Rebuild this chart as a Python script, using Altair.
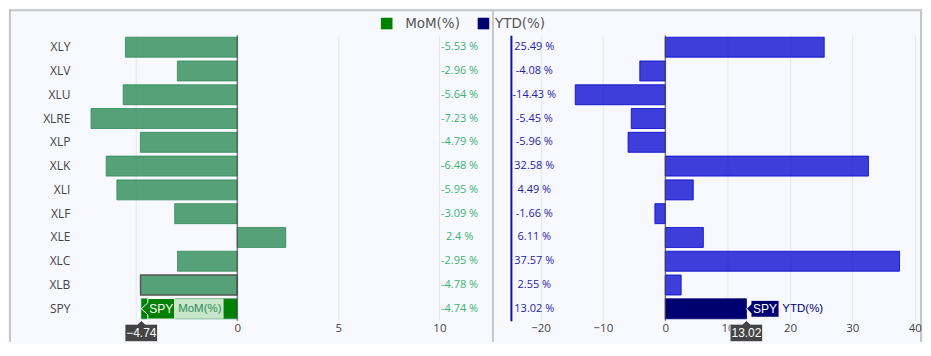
import altair as alt
import pandas as pd

# ---------------- data ----------------
tickers = ["XLY", "XLV", "XLU", "XLRE", "XLP", "XLK", "XLI", "XLF", "XLE", "XLC", "XLB", "SPY"]
mom_values = [-5.53, -2.96, -5.64, -7.23, -4.79, -6.48, -5.95, -3.09, 2.4, -2.95, -4.78, -4.74]
ytd_values = [25.49, -4.08, -14.43, -5.45, -5.96, 32.58, 4.49, -1.66, 6.11, 37.57, 2.55, 13.02]
series_names = ["MoM(%)", "YTD(%)"]
mom_ticks = [-5, 0, 5, 10]
ytd_ticks = [-20, -10, 0, 10, 20, 30, 40]
highlighted = "SPY"
outlined = "XLB"

# ---------------- styles ----------------
BG = "#f8f9fe"
FRAME = "#c6c6c6"
GRID = "#e5e6ee"
AXIS_TXT = "#444444"
GREEN_BAR = "#2e8b57"
GREEN_HI = "#008000"
GREEN_TXT = "#3cb371"
GREEN_NAME_BG = "#c8e6c9"
BLUE_BAR = "#0000cd"
NAVY = "#000070"
BLUE_TXT = "#2424a8"
BLUE_AXIS = "#1212b0"
SANS = "Open Sans"
HOVER_FONT = "Liberation Sans"
HOVER_SIZE = 11.5
LEGEND_FONT = "DejaVu Sans"

W_L, W_R, H = 415, 410, 286
MOM_DOMAIN = [-7.98, 12.5]
YTD_DOMAIN = [-24.75, 40.85]
MOM_LABEL_X = 11
YTD_LABEL_X = -21

HOVER_L = "M0,0 L0.65,-0.6 L0.65,-1.03 L3.34,-1.03 L3.34,1.03 L0.65,1.03 L0.65,0.6 Z"
HOVER_R = "M0,0 L0.45,-0.45 L0.45,-0.85 L3.27,-0.85 L3.27,0.85 L0.45,0.85 L0.45,0.45 Z"
AXIS_TIP = "M0,0 L0.4,0.35 L1.62,0.35 L1.62,2.1 L-1.64,2.1 L-1.64,0.35 L-0.4,0.35 Z"

df = pd.DataFrame({"ticker": tickers, "mom": mom_values, "ytd": ytd_values})
df["mom_label"] = [f"{v:g} %" for v in mom_values]
df["ytd_label"] = [f"{v:g} %" for v in ytd_values]
df["mom_tip"] = [f"{v:.2f}".replace("-", "\u2212") for v in mom_values]
df["ytd_tip"] = [f"{v:.2f}".replace("-", "\u2212") for v in ytd_values]

zero_df = pd.DataFrame({"z": [0]})
legend_df = pd.DataFrame({"name": series_names})

y_scale = alt.Scale(paddingInner=0.16, paddingOuter=0.08)
Y_LEFT = alt.Y("ticker:N", sort=tickers, scale=y_scale,
               axis=alt.Axis(title=None, ticks=False, domain=False, grid=False,
                             labelPadding=6, labelFont=SANS, labelFontSize=12,
                             labelColor=AXIS_TXT))
Y_RIGHT = alt.Y("ticker:N", sort=tickers, scale=y_scale,
                axis=alt.Axis(title=None, ticks=False, labels=False, grid=False,
                              domain=True, domainColor=BLUE_AXIS, domainWidth=2))


def x_axis(ticks, hidden_label=None):
    kw = {}
    if hidden_label is not None:
        kw["labelExpr"] = f"datum.value == {hidden_label} ? '' : datum.label"
    return alt.Axis(values=ticks, title=None, ticks=False, domain=False, grid=True,
                    gridColor=GRID, gridWidth=1, labelPadding=2, labelFont=SANS,
                    labelFontSize=11.5, labelColor=AXIS_TXT, **kw)


# the -5 label sits fully under the SPY axis tooltip in the reference
X_MOM = alt.X("mom:Q", scale=alt.Scale(domain=MOM_DOMAIN, nice=False, zero=False),
              axis=x_axis(mom_ticks, hidden_label=-5))
X_YTD = alt.X("ytd:Q", scale=alt.Scale(domain=YTD_DOMAIN, nice=False, zero=False),
              axis=x_axis(ytd_ticks))

base = alt.Chart(df)
spy = base.transform_filter(alt.datum.ticker == highlighted)
is_hi = alt.datum.ticker == highlighted

TIP_Y = H            # arrow tip of axis tooltip (just under the plot)
TIP_TEXT_Y = H + 12.3

# ---------------- left panel (MoM) ----------------
bars_l = base.mark_bar().encode(
    x=X_MOM, y=Y_LEFT,
    color=alt.condition(is_hi, alt.value(GREEN_HI), alt.value(GREEN_BAR)),
    fillOpacity=alt.condition(is_hi, alt.value(1.0), alt.value(0.8)),
    stroke=alt.condition(alt.datum.ticker == outlined, alt.value("#555555"), alt.value(GREEN_BAR)),
    strokeWidth=alt.condition(alt.datum.ticker == outlined, alt.value(1.5), alt.value(0.8)),
)
zero_l = alt.Chart(zero_df).mark_rule(color="#444444", strokeWidth=1).encode(x="z:Q")
labels_l = base.mark_text(font=SANS, fontSize=11, color=GREEN_TXT, align="center",
                          baseline="middle").encode(
    x=alt.datum(MOM_LABEL_X), y=Y_LEFT, text="mom_label:N")

hover_l = spy.mark_point(shape=HOVER_L, size=400, filled=True, fill=GREEN_HI,
                         stroke="white", strokeWidth=1, opacity=1).encode(x="mom:Q", y=Y_LEFT)
name_bg_l = spy.mark_rect(color=GREEN_NAME_BG, xOffset=33.4, x2Offset=82.4).encode(
    x="mom:Q", x2="mom", y=Y_LEFT)
hover_t_l = spy.mark_text(font=HOVER_FONT, fontSize=HOVER_SIZE + 0.5, color="white",
                          align="center", baseline="middle", dx=20).encode(
    x="mom:Q", y=Y_LEFT, text="ticker:N")
name_t_l = spy.mark_text(font=HOVER_FONT, fontSize=HOVER_SIZE, color=GREEN_BAR, align="center",
                         baseline="middle", dx=58.6).encode(
    x="mom:Q", y=Y_LEFT, text=alt.value(series_names[0]))
tip_l = spy.mark_point(shape=AXIS_TIP, size=400, filled=True, fill="#444444",
                       stroke="white", strokeWidth=0.8, opacity=1).encode(
    x="mom:Q", y=alt.value(TIP_Y))
tip_t_l = spy.mark_text(font=HOVER_FONT, fontSize=HOVER_SIZE + 0.5, color="white",
                        align="center", baseline="middle").encode(
    x="mom:Q", y=alt.value(TIP_TEXT_Y), text="mom_tip:N")

# legend (spans both panels, drawn in the left panel's coordinates)
legend_colors = [GREEN_HI, NAVY]
legend_sq_x = [311.5, 408.5]
legend_tx_x = [330, 420]
legend_layers = []
for name, col, sx, tx in zip(series_names, legend_colors, legend_sq_x, legend_tx_x):
    item = alt.Chart(legend_df).transform_filter(alt.datum.name == name)
    legend_layers.append(item.mark_square(size=135, color=col, opacity=1).encode(
        x=alt.value(sx), y=alt.value(-11.8)))
    legend_layers.append(item.mark_text(font=LEGEND_FONT, fontSize=13.5, color="#555555",
                                        align="left", baseline="middle").encode(
        x=alt.value(tx), y=alt.value(-11.3), text="name:N"))

# frame lines (outer border and the divider between the two panels)
frame_src = alt.Chart(zero_df)
FRAME_BOTTOM = 307
FRAME_RIGHT = 847
frame = [
    frame_src.mark_rule(color=FRAME, strokeWidth=2).encode(x=alt.value(-67), x2=alt.value(FRAME_RIGHT + 1), y=alt.value(-25)),
    frame_src.mark_rule(color=FRAME, strokeWidth=2).encode(x=alt.value(-66), y=alt.value(-26), y2=alt.value(FRAME_BOTTOM)),
    frame_src.mark_rule(color=FRAME, strokeWidth=2).encode(x=alt.value(418), y=alt.value(-26), y2=alt.value(FRAME_BOTTOM)),
    frame_src.mark_rule(color=FRAME, strokeWidth=2).encode(x=alt.value(FRAME_RIGHT), y=alt.value(-26), y2=alt.value(FRAME_BOTTOM)),
]

left = alt.layer(bars_l, zero_l, labels_l, hover_l, name_bg_l, hover_t_l, name_t_l,
                 tip_l, tip_t_l, *legend_layers, *frame).properties(width=W_L, height=H)

# ---------------- right panel (YTD) ----------------
bars_r = base.mark_bar().encode(
    x=X_YTD, y=Y_RIGHT,
    color=alt.condition(is_hi, alt.value(NAVY), alt.value(BLUE_BAR)),
    fillOpacity=alt.condition(is_hi, alt.value(1.0), alt.value(0.75)),
    stroke=alt.condition(is_hi, alt.value(NAVY), alt.value(BLUE_BAR)),
    strokeWidth=alt.value(0.8),
)
zero_r = alt.Chart(zero_df).mark_rule(color="#444444", strokeWidth=1).encode(
    x=alt.X("z:Q"))
labels_r = base.mark_text(font=SANS, fontSize=11, color=BLUE_TXT, align="center",
                          baseline="middle").encode(
    x=alt.datum(YTD_LABEL_X), y=Y_RIGHT, text="ytd_label:N")
hover_r = spy.mark_point(shape=HOVER_R, size=400, filled=True, fill=NAVY,
                         stroke="white", strokeWidth=1, opacity=1).encode(x="ytd:Q", y=Y_RIGHT)
hover_t_r = spy.mark_text(font=HOVER_FONT, fontSize=HOVER_SIZE + 0.5, color="white",
                          align="center", baseline="middle", dx=18.5).encode(
    x="ytd:Q", y=Y_RIGHT, text="ticker:N")
name_t_r = spy.mark_text(font=HOVER_FONT, fontSize=HOVER_SIZE, color=NAVY, align="left",
                         baseline="middle", dx=36).encode(
    x="ytd:Q", y=Y_RIGHT, text=alt.value(series_names[1]))
tip_r = spy.mark_point(shape=AXIS_TIP, size=400, filled=True, fill="#444444",
                       stroke="white", strokeWidth=0.8, opacity=1).encode(
    x="ytd:Q", y=alt.value(TIP_Y))
tip_t_r = spy.mark_text(font=HOVER_FONT, fontSize=HOVER_SIZE + 0.5, color="white",
                        align="center", baseline="middle").encode(
    x="ytd:Q", y=alt.value(TIP_TEXT_Y), text="ytd_tip:N")

right = alt.layer(bars_r, zero_r, labels_r, hover_r, hover_t_r, name_t_r,
                  tip_r, tip_t_r).properties(width=W_R, height=H)

chart = alt.hconcat(left, right, spacing=21, bounds="flush").properties(
    background=BG, padding=0
).configure_view(strokeWidth=0)

chart.save("out.html", embed_options={"renderer": "svg", "actions": False})
